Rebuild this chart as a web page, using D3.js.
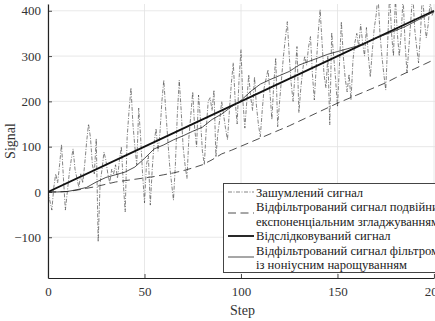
<!DOCTYPE html>
<html lang="uk">
<head>
    <meta charset="UTF-8">
    <title>Signal vs Step</title>
    <script src="https://d3js.org/d3.v7.min.js"></script>
    <style>
        body { margin: 0; background: #fff; }
        svg { display: block; }
    </style>
</head>
<body>
<svg width="435" height="321" font-family="'Liberation Serif', 'DejaVu Serif', serif"></svg>
<script>

    // noisy signal, one value per step 0..200
    var noisySignal = [
        0, -20, -40, 10, 40, 20, 60, 105, 30, -40,
        0, 40, 70, 95, 50, 30, 10, 40, 20, 60,
        110, 150, 120, 60, 40, 118, -110, 20, 50, 88,
        70, 40, 20, 50, 40, 60, 30, 70, 100, 20,
        -44, 120, 180, 230, 150, 100, 60, 185, 120, 40,
        -24, 60, 80, -29, 50, 110, 140, 90, 130, 200,
        247, 180, 120, 60, 20, -18, 60, 170, 247, 180,
        100, 60, 30, 120, 170, 221, 140, 100, 214, 160,
        90, 60, 140, 200, 208, 180, 225, 77, 130, 160,
        200, 170, 140, 115, 180, 240, 285, 200, 150, 250,
        314, 200, 141, 200, 259, 210, 180, 254, 190, 150,
        122, 180, 230, 250, 270, 220, 160, 240, 296, 144,
        200, 250, 300, 340, 376, 300, 240, 200, 260, 321,
        175, 230, 270, 300, 280, 320, 343, 260, 203, 280,
        350, 403, 330, 260, 230, 300, 148, 352, 300, 250,
        188, 280, 376, 300, 250, 221, 260, 203, 290, 330,
        350, 320, 370, 330, 300, 363, 300, 254, 310, 360,
        390, 435, 350, 300, 260, 225, 330, 440, 350, 300,
        430, 350, 300, 350, 430, 330, 263, 320, 380, 440,
        360, 320, 285, 350, 440, 380, 340, 370, 420, 390,
        400
    ]

    // filtered / tracked series, sampled every 5 steps
    var sampleSteps = d3.range(0, 201, 5)
    var doubleExpSignal = [
        0, 0, 1, 4, 8, 12, 17, 22, 25, 28,
        31, 34, 38, 42, 47, 53, 60, 71, 84, 92,
        101, 110, 119, 128, 137, 146, 156, 166, 176, 186,
        196, 205, 214, 223, 232, 241, 252, 262, 272, 282,
        292
    ]
    var vernierSignal = [
        0, 0, 1, 5, 10, 22, 32, 38, 44, 55,
        74, 95, 104, 115, 124, 134, 143, 160, 172, 188,
        202, 222, 238, 248, 257, 266, 280, 288, 296, 304,
        310, 316, 322, 330, 340, 348, 356, 365, 376, 387,
        398
    ]
    var trackedSteps = [0, 50, 100, 150, 200]
    var trackedSignal = [0, 100, 200, 300, 400]

    var xTicks = [0, 50, 100, 150, 200]
    var yTicks = [-100, 0, 100, 200, 300, 400]

    var legendLabels = [
        ['Зашумлений сигнал'],
        ['Відфільтрований сигнал подвійним', 'експоненціальним згладжуванням'],
        ['Відслідковуваний сигнал'],
        ['Відфільтрований сигнал фільтром', 'із ноніусним нарощуванням']
    ]

    var serif = "'Liberation Serif', 'DejaVu Serif', serif"

    function draw() {
        var pl = 48, pr = 434, pt = 4, pb = 278

        var svg = d3.select('svg')

        var x = d3.scaleLinear().domain([0, 200]).range([pl, pr])
        var y = d3.scaleLinear().domain([-190, 415]).range([pb, pt])

        // grid
        svg.append('g')
            .selectAll('line')
            .data(xTicks)
            .join('line')
            .attr('x1', d => x(d)).attr('x2', d => x(d))
            .attr('y1', pt).attr('y2', pb)
            .attr('stroke', '#e2e2e2')
            .attr('stroke-width', 0.8)

        svg.append('g')
            .selectAll('line')
            .data(yTicks)
            .join('line')
            .attr('x1', pl).attr('x2', 435)
            .attr('y1', d => y(d)).attr('y2', d => y(d))
            .attr('stroke', '#e2e2e2')
            .attr('stroke-width', 0.8)

        svg.append('clipPath')
            .attr('id', 'plot')
            .append('rect')
            .attr('x', pl).attr('y', pt)
            .attr('width', 435 - pl).attr('height', pb - pt)

        var plot = svg.append('g').attr('clip-path', 'url(#plot)')

        var line = d3.line()
            .x(d => x(d[0]))
            .y(d => y(d[1]))

        var styles = [
            { dash: '4,1.5,1,1.5', width: 0.6, color: '#333' },
            { dash: '8,4.5', width: 0.8, color: '#222' },
            { dash: null, width: 1.8, color: '#111' },
            { dash: null, width: 0.8, color: '#222' }
        ]

        var series = [
            noisySignal.map((v, i) => [i, v]),
            doubleExpSignal.map((v, i) => [sampleSteps[i], v]),
            trackedSignal.map((v, i) => [trackedSteps[i], v]),
            vernierSignal.map((v, i) => [sampleSteps[i], v])
        ]

        series.forEach((s, i) => {
            plot.append('path')
                .datum(s)
                .attr('d', line)
                .attr('fill', 'none')
                .attr('stroke', styles[i].color)
                .attr('stroke-width', styles[i].width)
                .attr('stroke-dasharray', styles[i].dash)
        })

        // axes
        var xAxis = svg.append('g')
            .attr('transform', `translate(0,${pb})`)
            .call(d3.axisBottom(x).tickValues(xTicks).tickSizeInner(-4).tickSizeOuter(0).tickPadding(9))
        var yAxis = svg.append('g')
            .attr('transform', `translate(${pl},0)`)
            .call(d3.axisLeft(y).tickValues(yTicks).tickSizeInner(-4).tickSizeOuter(0).tickPadding(7))

        ;[xAxis, yAxis].forEach(a => {
            a.attr('font-family', serif)
            a.select('.domain').attr('stroke', '#222').attr('stroke-width', 1.2)
            a.selectAll('.tick line').attr('stroke', '#222').attr('stroke-width', 0.8)
            a.selectAll('.tick text')
                .attr('font-size', 13)
                .attr('fill', '#333')
        })

        svg.append('text')
            .attr('text-anchor', 'middle')
            .attr('x', (pl + 435) / 2 + 1)
            .attr('y', 315)
            .attr('font-size', 14)
            .attr('fill', '#333')
            .text('Step')

        svg.append('text')
            .attr('text-anchor', 'middle')
            .attr('transform', `translate(15,${(pt + pb) / 2}) rotate(-90)`)
            .attr('font-size', 14)
            .attr('fill', '#333')
            .text('Signal')

        // legend
        var legend = svg.append('g')
        legend.append('rect')
            .attr('x', 223.5).attr('y', 183.5)
            .attr('width', 230).attr('height', 89)
            .attr('fill', '#fff')
            .attr('stroke', '#444')
            .attr('stroke-width', 1)

        var sampleY = [192, 213, 236, 257]
        var textY = [[197], [211, 226], [240], [255, 269]]

        legendLabels.forEach((lines, i) => {
            legend.append('line')
                .attr('x1', 228).attr('x2', 254)
                .attr('y1', sampleY[i]).attr('y2', sampleY[i])
                .attr('stroke', styles[i].color)
                .attr('stroke-width', styles[i].width)
                .attr('stroke-dasharray', styles[i].dash)
            lines.forEach((t, j) => {
                legend.append('text')
                    .attr('x', 256)
                    .attr('y', textY[i][j])
                    .attr('font-size', 12.6)
                    .attr('fill', '#222')
                    .text(t)
            })
        })
    }

    draw()

</script>
</body>
</html>
